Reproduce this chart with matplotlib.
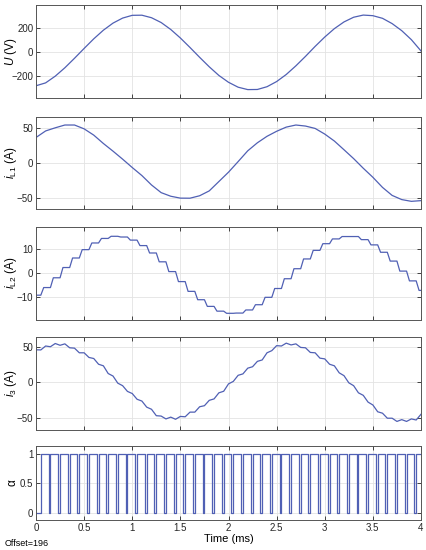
import matplotlib
matplotlib.use('Agg')
import matplotlib.pyplot as plt
import numpy as np

plt.rcParams['font.family'] = ['Liberation Sans', 'DejaVu Sans']
plt.rcParams['mathtext.fontset'] = 'custom'
plt.rcParams['mathtext.rm'] = 'Liberation Sans'
plt.rcParams['mathtext.it'] = 'Liberation Sans:italic'

# grid voltage U (V), sampled every 0.1 ms
u_volt = [-278, -254, -198, -128, -49, 33, 113, 185, 244, 286,
          309, 310, 289, 249, 191, 120, 41, -41, -120, -192,
          -249, -290, -310, -309, -286, -243, -184, -112, -33, 50,
          128, 198, 254, 293, 311, 306, 284, 240, 181, 106, 12]

# i_L1 (A), every 0.1 ms
i_l1 = [36.6, 46, 50.5, 54.5, 54.5, 49, 40, 28, 17, 5.5,
        -6.5, -18, -31.5, -42.5, -47.7, -50.4, -50.5, -47, -40, -26.6,
        -13.2, 2, 17.5, 29, 38.3, 45.5, 51.5, 54.5, 53, 49.6,
        41.5, 31.5, 19, 6.3, -7.5, -20.5, -35, -46.5, -52.5, -55, -54]

# i_L2 (A) staircase levels: start level, then one level per switching period
i_l2_start = -9.2
i_l2_levels = [-6.0, -1.9, 2.4, 6.4, 9.9, 12.7, 14.6, 15.5, 15.2, 13.9,
               11.6, 8.5, 4.8, 0.7, -3.5, -7.6, -11.1, -13.9, -15.9, -16.8,
               -16.7, -15.4, -13.2, -10.1, -6.4, -2.3, 1.9, 6.0, 9.6, 12.4,
               14.4, 15.4, 15.4, 14.1, 11.9, 8.8, 5.1, 0.9, -3.2, -7.2]

# i_3 (A), every 0.05 ms
i_3 = [45.7, 45.5, 51.0, 50.0, 54.5, 52.0, 54.0, 48.5, 48.0, 41.5,
       41.5, 35.0, 33.5, 25.5, 23.3, 12.5, 9.0, -1.0, -4.5, -12.5,
       -15.5, -23.5, -26.0, -34.5, -37.5, -46.5, -47.0, -51.0, -48.5, -51.5,
       -47.5, -48.0, -41.5, -41.5, -34.0, -32.5, -25.0, -23.0, -14.5, -12.3,
       -2.0, 1.5, 10.0, 12.0, 20.0, 22.0, 29.5, 31.5, 41.5, 44.5,
       51.5, 51.0, 55.0, 52.5, 54.0, 49.0, 48.5, 42.0, 41.5, 34.0,
       33.0, 25.5, 23.3, 13.5, 9.5, -0.5, -4.5, -14.5, -18.0, -27.5,
       -31.5, -41.0, -43.0, -50.0, -50.0, -54.5, -52.0, -54.5, -51.0, -52.5,
       -44.5]

# switching signal alpha: 40 pulses in 4 ms
pwm_period = 0.1
pwm_first_rise = 0.05
pwm_on = 0.08
n_pulses = 40

t_end = 4.0
t10 = np.linspace(0, t_end, len(u_volt))
t20 = np.linspace(0, t_end, len(i_3))

# staircase for i_L2 (ramp at each rising edge of alpha)
ramp = 0.03
t_l2 = [0.0]
v_l2 = [i_l2_start]
prev = i_l2_start
for k, lv in enumerate(i_l2_levels):
    t0 = pwm_first_rise + k * pwm_period
    t_l2 += [t0, t0 + ramp]
    v_l2 += [prev, lv]
    prev = lv
t_l2.append(t_end)
v_l2.append(prev)

# alpha step signal
t_a = [0.0]
v_a = [0]
for k in range(n_pulses):
    r = pwm_first_rise + k * pwm_period
    f = r + pwm_on
    t_a += [r, r]
    v_a += [0, 1]
    if f < t_end:
        t_a += [f, f]
        v_a += [1, 0]
    else:
        t_a.append(t_end)
        v_a.append(1)

line_c = '#5060b4'
W, H = 426, 550
fig = plt.figure(figsize=(W / 100, H / 100), dpi=100)

def make_ax(top, bottom):
    ax = fig.add_axes([36 / W, 1 - bottom / H, 385 / W, (bottom - top) / H])
    ax.set_xlim(0, t_end)
    ax.set_xticks(np.arange(0, 4.01, 0.5))
    ax.tick_params(direction='in', length=3, width=0.6, top=True, right=True,
                   labelsize=7, pad=2, colors='#262626')
    ax.grid(True, color='#e3e3e3', lw=0.6)
    ax.set_axisbelow(True)
    for s in ax.spines.values():
        s.set_color('#555555')
        s.set_linewidth(0.7)
    ax.yaxis.set_label_coords(-0.045, 0.5)
    return ax

ax1 = make_ax(5, 98)
ax1.plot(t10, u_volt, color=line_c, lw=0.9)
ax1.set_ylim(-380, 395)
ax1.set_yticks([-200, 0, 200])
ax1.set_ylabel(r'$U$ (V)', fontsize=8.5)

ax2 = make_ax(117, 209)
ax2.plot(t10, i_l1, color=line_c, lw=0.9)
ax2.set_ylim(-66, 66)
ax2.set_yticks([-50, 0, 50])
ax2.set_ylabel(r'$i_{\mathrm{L1}}$ (A)', fontsize=8.5)

ax3 = make_ax(227, 319.5)
ax3.plot(t_l2, v_l2, color=line_c, lw=0.9)
ax3.set_ylim(-19.4, 19.4)
ax3.set_yticks([-10, 0, 10])
ax3.set_ylabel(r'$i_{\mathrm{L2}}$ (A)', fontsize=8.5)

ax4 = make_ax(337, 430)
ax4.plot(t20, i_3, color=line_c, lw=0.9)
ax4.set_ylim(-66.5, 63.6)
ax4.set_yticks([-50, 0, 50])
ax4.set_ylabel(r'$i_{3}$ (A)', fontsize=8.5)

ax5 = make_ax(445.5, 520)
ax5.plot(t_a, v_a, color=line_c, lw=0.9)
ax5.set_ylim(-0.125, 1.15)
ax5.set_yticks([0, 0.5, 1])
ax5.set_yticklabels(['0', '0.5', '1'])
ax5.set_ylabel('α', fontsize=8.5)
ax5.set_xticklabels(['0', '0.5', '1', '1.5', '2', '2.5', '3', '3.5', '4'])
ax5.set_xlabel('Time (ms)', fontsize=8, labelpad=1)

for ax in (ax1, ax2, ax3, ax4):
    ax.tick_params(labelbottom=False)

fig.text(5 / W, 1 - 543 / H, 'Offset=196', fontsize=6.5, va='center', ha='left')

fig.savefig('out.png', dpi=100)
